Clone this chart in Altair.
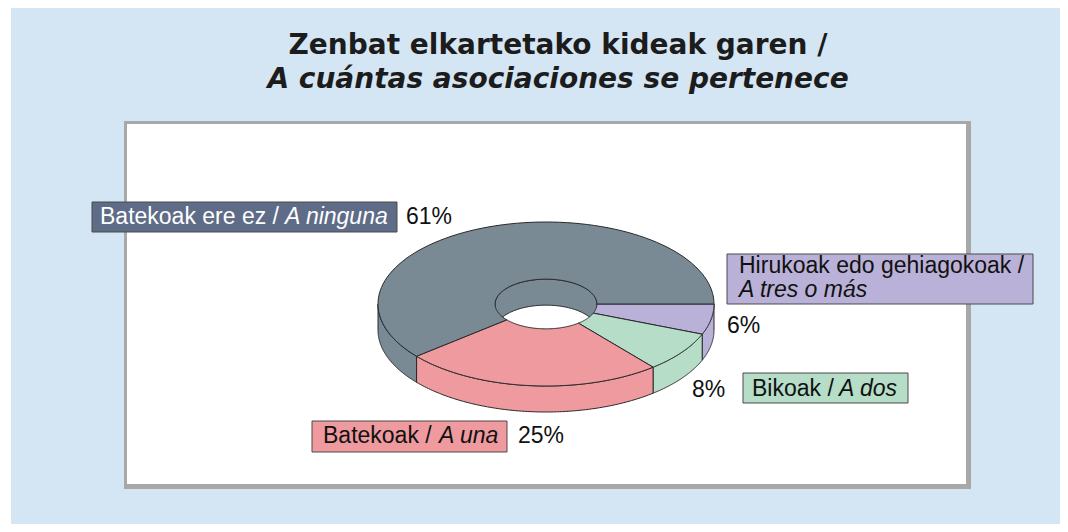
import altair as alt
import pandas as pd
import numpy as np

# ---------------- data ----------------
cats_eu = ["Hirukoak edo gehiagokoak /", "Bikoak /", "Batekoak /", "Batekoak ere ez /"]
cats_es = ["A tres o más", "A dos", "A una", "A ninguna"]
values = [6, 8, 25, 61]
pct_labels = ["6%", "8%", "25%", "61%"]
title_eu = "Zenbat elkartetako kideak garen /"
title_es = "A cuántas asociaciones se pertenece"

# ---------------- styles ----------------
slice_colors = ["#bab1d8", "#b5ddc8", "#ef9a9e", "#7a8a95"]
box_colors = ["#bab1d8", "#b5ddc8", "#ef9a9e", "#5e6c87"]
label_text_colors = ["#111111", "#111111", "#111111", "#ffffff"]

# ---------------- layout ----------------
W, H = 1052, 516
OX, OY = 8, 8
CX, CY = 546 - OX, 304 - OY
RX, RY = 168, 82
INNER = 0.303
DEPTH = 26
N = 90

# label layout in page pixels: box x0,y0,x1,y1 ; eu x,y ; es x,y ; pct x,y
label_layout = [
    dict(bx0=727, by0=254, bx1=1033, by1=304, ex=739, ey=273, sx=739, sy=297, px=727, py=333),
    dict(bx0=743, by0=373, bx1=908, by1=403, ex=752, ey=396, sx=839, sy=396, px=692, py=397),
    dict(bx0=312, by0=421, bx1=507, by1=452, ex=323, ey=443, sx=439, sy=443, px=518, py=443),
    dict(bx0=92, by0=202, bx1=397, by1=232, ex=100, ey=224, sx=285, sy=224, px=406, py=224),
]

xs = alt.Scale(domain=[0, W], range=[0, W], nice=False, zero=False)
ys = alt.Scale(domain=[0, H], range=[0, H], nice=False, zero=False)
cscale = alt.Scale(domain=cats_eu, range=slice_colors)

total = float(sum(values))
cum = np.cumsum(values)
pie_df = pd.DataFrame({
    "cat": cats_eu,
    "value": values,
    "start": (cum - np.array(values)) / total,
    "end": cum / total,
})


def polygon(lo, hi, r1, off1, r2, off2):
    return (
        alt.Chart(pie_df)
        .transform_calculate(
            a=f"max(2*PI*datum.start, {lo})",
            b=f"min(2*PI*datum.end, {hi})",
        )
        .transform_filter("datum.b > datum.a")
        .transform_calculate(seq=f"sequence(0, {2 * N + 3})")
        .transform_flatten(["seq"], as_=["i"])
        .transform_calculate(
            k=f"datum.i <= {N} ? 0 : (datum.i <= {2 * N + 1} ? 1 : 2)",
        )
        .transform_calculate(
            t=f"datum.k == 0 ? datum.a + (datum.b - datum.a) * datum.i / {N} : "
              f"(datum.k == 1 ? datum.b - (datum.b - datum.a) * (datum.i - {N + 1}) / {N} : datum.a)",
            r=f"datum.k == 1 ? {r2} : {r1}",
            off=f"datum.k == 1 ? {off2} : {off1}",
        )
        .transform_calculate(
            px=f"{CX} + {RX} * datum.r * cos(datum.t)",
            py=f"{CY} + {RY} * datum.r * sin(datum.t) + datum.off",
        )
        .mark_line(filled=True, stroke="#2a2a2a", strokeWidth=1, strokeJoin="round")
        .encode(
            x=alt.X("px:Q", scale=xs, axis=None),
            y=alt.Y("py:Q", scale=ys, axis=None),
            color=alt.Color("cat:N", scale=cscale, legend=None),
            detail="cat:N",
            order="i:Q",
        )
    )


PI = np.pi
inner_wall = polygon(PI, 2 * PI, INNER, 0, INNER, DEPTH)
side_walls = polygon(0, PI, 1, 0, 1, DEPTH)
top_faces = polygon(0, 2 * PI, 1, 0, INNER, 0)

# background pieces
one = pd.DataFrame({"k": [0]})
bg = alt.Chart(one).mark_rect(fill="#d4e6f4").encode(
    x=alt.value(3), x2=alt.value(W), y=alt.value(0), y2=alt.value(H)
)
box_shadow = alt.Chart(one).mark_rect(fill="#a8a8a8").encode(
    x=alt.value(124 - OX), x2=alt.value(971 - OX),
    y=alt.value(121 - OY), y2=alt.value(489 - OY)
)
plot_box = alt.Chart(one).mark_rect(fill="#ffffff").encode(
    x=alt.value(127 - OX), x2=alt.value(966 - OX),
    y=alt.value(124 - OY), y2=alt.value(484 - OY)
)

# labels table
rows = []
for i in range(len(cats_eu)):
    L = label_layout[i]
    rows.append(dict(
        cat=cats_eu[i], eu=cats_eu[i], es=cats_es[i], pct=pct_labels[i],
        box=box_colors[i], tc=label_text_colors[i],
        bx0=L["bx0"] - OX, by0=L["by0"] - OY, bx1=L["bx1"] - OX, by1=L["by1"] - OY,
        ex=L["ex"] - OX, ey=L["ey"] - OY, sx=L["sx"] - OX, sy=L["sy"] - OY,
        px=L["px"] - OX, py=L["py"] - OY,
    ))
lab = pd.DataFrame(rows)
base = alt.Chart(lab)

boxes = base.mark_rect(stroke="#4a4a4a", strokeWidth=1).encode(
    x=alt.X("bx0:Q", scale=xs, axis=None), x2="bx1:Q",
    y=alt.Y("by0:Q", scale=ys, axis=None), y2="by1:Q",
    fill=alt.Fill("box:N", scale=None, legend=None),
)
font = "Liberation Sans"
eu_text = base.mark_text(align="left", baseline="alphabetic", font=font, fontSize=23).encode(
    x=alt.X("ex:Q", scale=xs, axis=None), y=alt.Y("ey:Q", scale=ys, axis=None),
    text="eu:N", color=alt.Color("tc:N", scale=None, legend=None),
)
es_text = base.mark_text(align="left", baseline="alphabetic", font=font, fontSize=23, fontStyle="italic").encode(
    x=alt.X("sx:Q", scale=xs, axis=None), y=alt.Y("sy:Q", scale=ys, axis=None),
    text="es:N", color=alt.Color("tc:N", scale=None, legend=None),
)
pct_text = base.mark_text(align="left", baseline="alphabetic", font=font, fontSize=23, color="#111111").encode(
    x=alt.X("px:Q", scale=xs, axis=None), y=alt.Y("py:Q", scale=ys, axis=None),
    text="pct:N",
)

title1 = alt.Chart(pd.DataFrame({"t": [title_eu]})).mark_text(
    align="center", baseline="alphabetic", font="DejaVu Sans", fontSize=28,
    fontWeight="bold", color="#1c1c1c"
).encode(x=alt.value(558 - OX), y=alt.value(54 - OY), text="t:N")
title2 = alt.Chart(pd.DataFrame({"t": [title_es]})).mark_text(
    align="center", baseline="alphabetic", font="DejaVu Sans", fontSize=28,
    fontWeight="bold", fontStyle="italic", color="#1c1c1c"
).encode(x=alt.value(558 - OX), y=alt.value(88 - OY), text="t:N")

chart = alt.layer(
    bg, box_shadow, plot_box, inner_wall, side_walls, top_faces,
    boxes, eu_text, es_text, pct_text, title1, title2,
).properties(
    width=W, height=H, padding=0, background="#ffffff",
    autosize=alt.AutoSizeParams(type="none"),
).configure_view(stroke=None)

chart.save("out.html", embed_options={"renderer": "svg", "actions": False})
